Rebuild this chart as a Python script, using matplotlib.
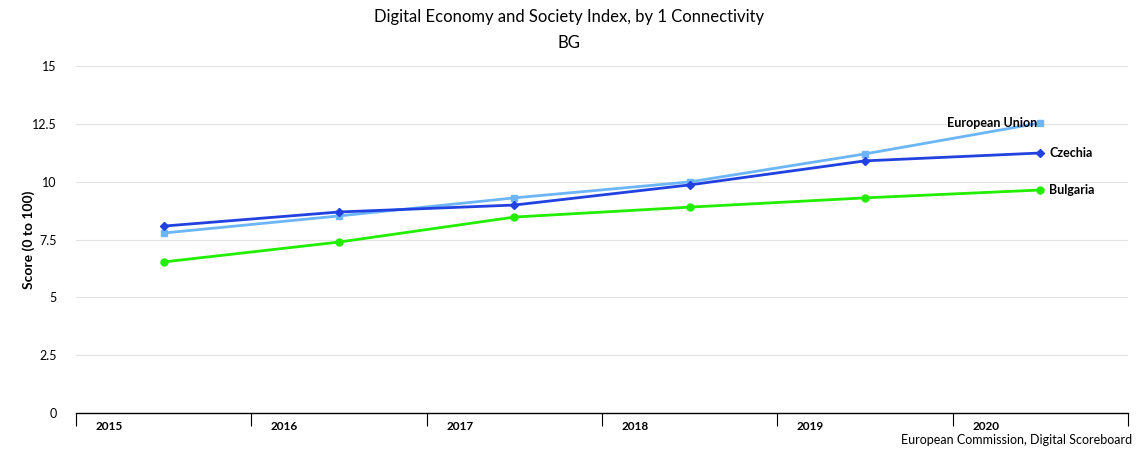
import numpy as np
import matplotlib.pyplot as plt

years = ["2015", "2016", "2017", "2018", "2019", "2020"]
bulgaria = [6.53, 7.39, 8.47, 8.90, 9.30, 9.64]
czechia = [8.08, 8.69, 8.99, 9.86, 10.90, 11.24]
eu = [7.78, 8.52, 9.30, 9.99, 11.20, 12.54]

plt.rcParams['font.family'] = ['Lato', 'DejaVu Sans']

fig = plt.figure(figsize=(11.38, 4.5), dpi=100)
ax = fig.add_axes([0.0668, 0.0822, 0.9244, 0.7711])

x = np.arange(len(years))
ax.plot(x, eu, color='#6cb6f7', lw=2, marker='s', ms=5, zorder=3)
ax.plot(x, czechia, color='#2141e0', lw=2, marker='D', ms=4, zorder=4)
ax.plot(x, bulgaria, color='#22ee00', lw=2, marker='o', ms=5, zorder=3)

ax.text(x[-1] - 0.02, eu[-1], "European Union", ha='right', va='center',
        fontsize=9, fontweight='bold')
ax.text(x[-1] + 0.05, czechia[-1], "Czechia", ha='left', va='center',
        fontsize=9, fontweight='bold')
ax.text(x[-1] + 0.05, bulgaria[-1], "Bulgaria", ha='left', va='center',
        fontsize=9, fontweight='bold')

ax.set_xlim(-0.5, len(years) - 0.5)
ax.set_ylim(0, 15)
ax.set_yticks([0, 2.5, 5, 7.5, 10, 12.5, 15])
ax.set_yticklabels(["0", "2.5", "5", "7.5", "10", "12.5", "15"], fontsize=9)
ax.tick_params(axis='y', length=0, pad=14)
ax.grid(axis='y', color='#e3e3e3', lw=0.8)
ax.set_axisbelow(True)

ax.set_xticks(np.arange(-0.5, len(years), 1.0))
ax.set_xticklabels([])
ax.tick_params(axis='x', length=9, width=0.8, direction='out')
for i, yr in enumerate(years):
    ax.text(i - 0.31, -0.35, yr, ha='center', va='top', fontsize=8.5,
            fontweight='bold')

for s in ['left', 'right', 'top']:
    ax.spines[s].set_visible(False)
ax.spines['bottom'].set_linewidth(1)

ax.set_ylabel("Score (0 to 100)", fontsize=10, fontweight='bold', labelpad=-2)

fig.text(0.5, 0.963, "Digital Economy and Society Index, by 1 Connectivity",
         ha='center', va='center', fontsize=12)
fig.text(0.5, 0.905, "BG", ha='center', va='center', fontsize=12)
fig.text(0.995, 0.008, "European Commission, Digital Scoreboard",
         ha='right', va='bottom', fontsize=9)

fig.savefig("out.png", dpi=100)
